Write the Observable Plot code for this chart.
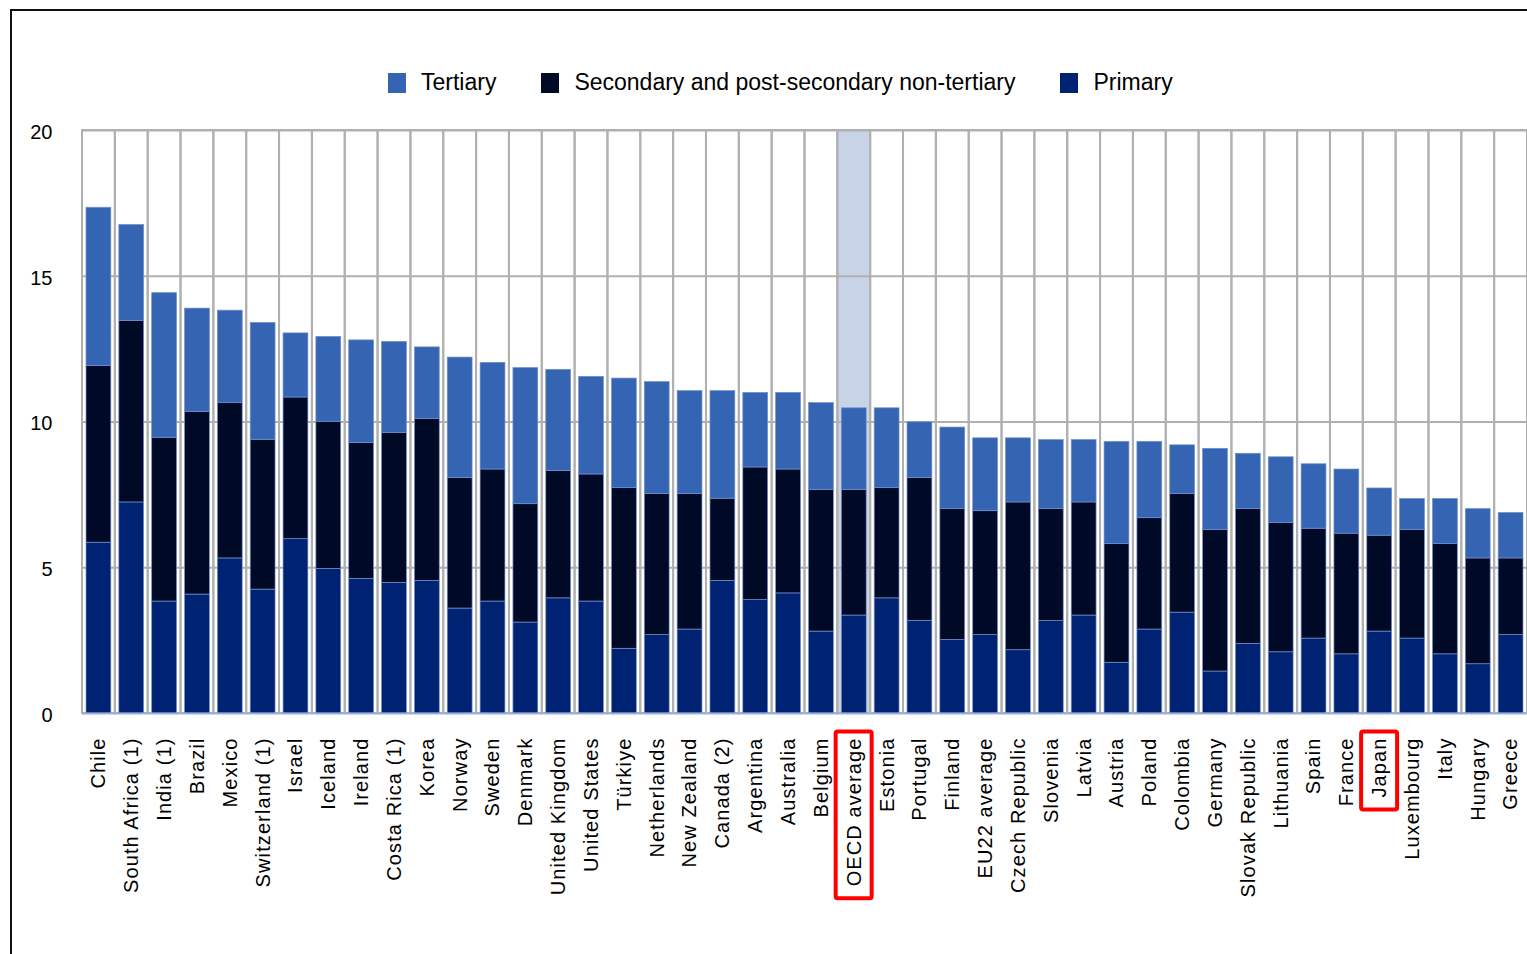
<!DOCTYPE html>
<html>
<head>
<meta charset="utf-8">
<script src="https://cdn.jsdelivr.net/npm/d3@7"></script>
<script src="https://cdn.jsdelivr.net/npm/@observablehq/plot@0.6"></script>
<style>
  html, body { margin: 0; padding: 0; background: #fff; overflow: hidden; }
  body { width: 1527px; height: 954px; position: relative; font-family: "Liberation Sans", Arial, sans-serif; }
  #frame { position: absolute; left: 10px; top: 9px; width: 1600px; height: 1000px; border-left: 2px solid #111; border-top: 2px solid #111; box-sizing: border-box; }
  #chart { position: absolute; left: 0; top: 0; }
  #legend { position: absolute; top: 69px; left: 388px; display: flex; align-items: center; font-size: 23px; color: #000; letter-spacing: 0px; white-space: nowrap; }
  #legend .item { display: flex; align-items: center; }
  #legend .sw { width: 18px; height: 20px; margin-right: 15px; }
</style>
</head>
<body>
<div id="frame"></div>
<div id="chart"></div>
<div id="legend"></div>
<script>
const countries = ["Chile","South Africa (1)","India (1)","Brazil","Mexico","Switzerland (1)","Israel","Iceland","Ireland","Costa Rica (1)","Korea","Norway","Sweden","Denmark","United Kingdom","United States","Türkiye","Netherlands","New Zealand","Canada (2)","Argentina","Australia","Belgium","OECD average","Estonia","Portugal","Finland","EU22 average","Czech Republic","Slovenia","Latvia","Austria","Poland","Colombia","Germany","Slovak Republic","Lithuania","Spain","France","Japan","Luxembourg","Italy","Hungary","Greece"];

const primary =   [5.86,7.24,3.84,4.08,5.32,4.25,5.98,4.96,4.62,4.48,4.55,3.60,3.84,3.12,3.95,3.84,2.22,2.69,2.88,4.55,3.89,4.12,2.81,3.36,3.95,3.18,2.52,2.69,2.17,3.17,3.36,1.74,2.88,3.46,1.44,2.39,2.10,2.57,2.03,2.81,2.57,2.03,1.69,2.69];
const secondary = [6.06,6.23,5.62,6.27,5.34,5.14,4.86,5.05,4.66,5.15,5.56,4.48,4.53,4.06,4.37,4.36,5.51,4.84,4.65,2.82,4.55,4.25,4.86,4.31,3.78,4.90,4.49,4.25,5.07,3.84,3.88,4.07,3.82,4.07,4.85,4.62,4.43,3.77,4.14,3.29,3.72,3.78,3.63,2.63];
const tertiary =  [5.43,3.29,4.96,3.54,3.16,4.01,2.20,2.91,3.52,3.12,2.45,4.13,3.66,4.67,3.47,3.35,3.76,3.84,3.53,3.69,2.56,2.63,2.98,2.80,2.74,1.91,2.80,2.50,2.20,2.37,2.14,3.51,2.62,1.67,2.79,1.90,2.26,2.21,2.20,1.62,1.07,1.55,1.69,1.56];

const seriesNames = ["Primary","Secondary and post-secondary non-tertiary","Tertiary"];
const seriesColors = ["#002272","#000a26","#3565b2"];
const legendOrder = ["Tertiary","Secondary and post-secondary non-tertiary","Primary"];
const yTicks = [0,5,10,15,20];
const highlighted = ["OECD average"];
const boxed = ["OECD average","Japan"];

const seriesValues = [primary, secondary, tertiary];
const rows = [];
seriesNames.forEach((s, si) => {
  countries.forEach((c, ci) => rows.push({country: c, level: s, value: seriesValues[si][ci]}));
});

const plot = Plot.plot({
  width: 1527,
  height: 954,
  marginLeft: 82,
  marginRight: 0,
  marginTop: 130,
  marginBottom: 241,
  style: {fontFamily: "'Liberation Sans', Arial, sans-serif", fontSize: "20px", color: "#000", background: "transparent"},
  x: {domain: countries, padding: 0, label: null},
  y: {domain: [0, 20], label: null},
  color: {domain: seriesNames, range: seriesColors},
  marks: [
    Plot.barY(highlighted, {x: d => d, y1: 0, y2: 20, fill: "#c8d3e8"}),
    Plot.ruleY(yTicks.filter(v => v > 0), {stroke: "#b0b0b0", strokeWidth: 2}),
    Plot.barY(countries, {x: d => d, y1: 0, y2: 20, fill: "none", stroke: "#b0b0b0", strokeWidth: 2}),
    Plot.barY(rows, {x: "country", y: "value", fill: "level", insetLeft: 4, insetRight: 4, stroke: "#7290cf", strokeWidth: 0.7}),
    Plot.ruleY([0], {stroke: "#9ab0dc", strokeWidth: 2}),
    Plot.axisY({ticks: yTicks, tickSize: 0, tickPadding: 30, fontSize: 20, dy: 2, label: null}),
    Plot.axisX({tickSize: 0, tickRotate: -90, tickPadding: 24, fontSize: 20, label: null})
  ]
});
document.getElementById("chart").appendChild(plot);

// letter spacing on category labels
plot.querySelectorAll("g[aria-label='x-axis tick label'] text").forEach(t => { t.style.letterSpacing = "1.1px"; });

// red boxes around selected labels, measured from the rendered text
const svgRect = plot.getBoundingClientRect();
plot.querySelectorAll("g[aria-label='x-axis tick label'] text").forEach(t => {
  if (boxed.includes(t.textContent)) {
    const r = t.getBoundingClientRect();
    const rect = document.createElementNS("http://www.w3.org/2000/svg", "rect");
    rect.setAttribute("x", r.left - svgRect.left - 7);
    rect.setAttribute("y", r.top - svgRect.top - 6);
    rect.setAttribute("width", r.width + 14);
    rect.setAttribute("height", r.height + 18);
    rect.setAttribute("fill", "none");
    rect.setAttribute("stroke", "#ff0000");
    rect.setAttribute("stroke-width", 4);
    rect.setAttribute("rx", 2);
    plot.appendChild(rect);
  }
});

// legend
const legend = document.getElementById("legend");
legendOrder.forEach((name, i) => {
  const item = document.createElement("div");
  item.className = "item";
  if (i > 0) item.style.marginLeft = "45px";
  const sw = document.createElement("span");
  sw.className = "sw";
  sw.style.background = seriesColors[seriesNames.indexOf(name)];
  const lab = document.createElement("span");
  lab.textContent = name;
  item.appendChild(sw);
  item.appendChild(lab);
  legend.appendChild(item);
});
</script>
</body>
</html>
